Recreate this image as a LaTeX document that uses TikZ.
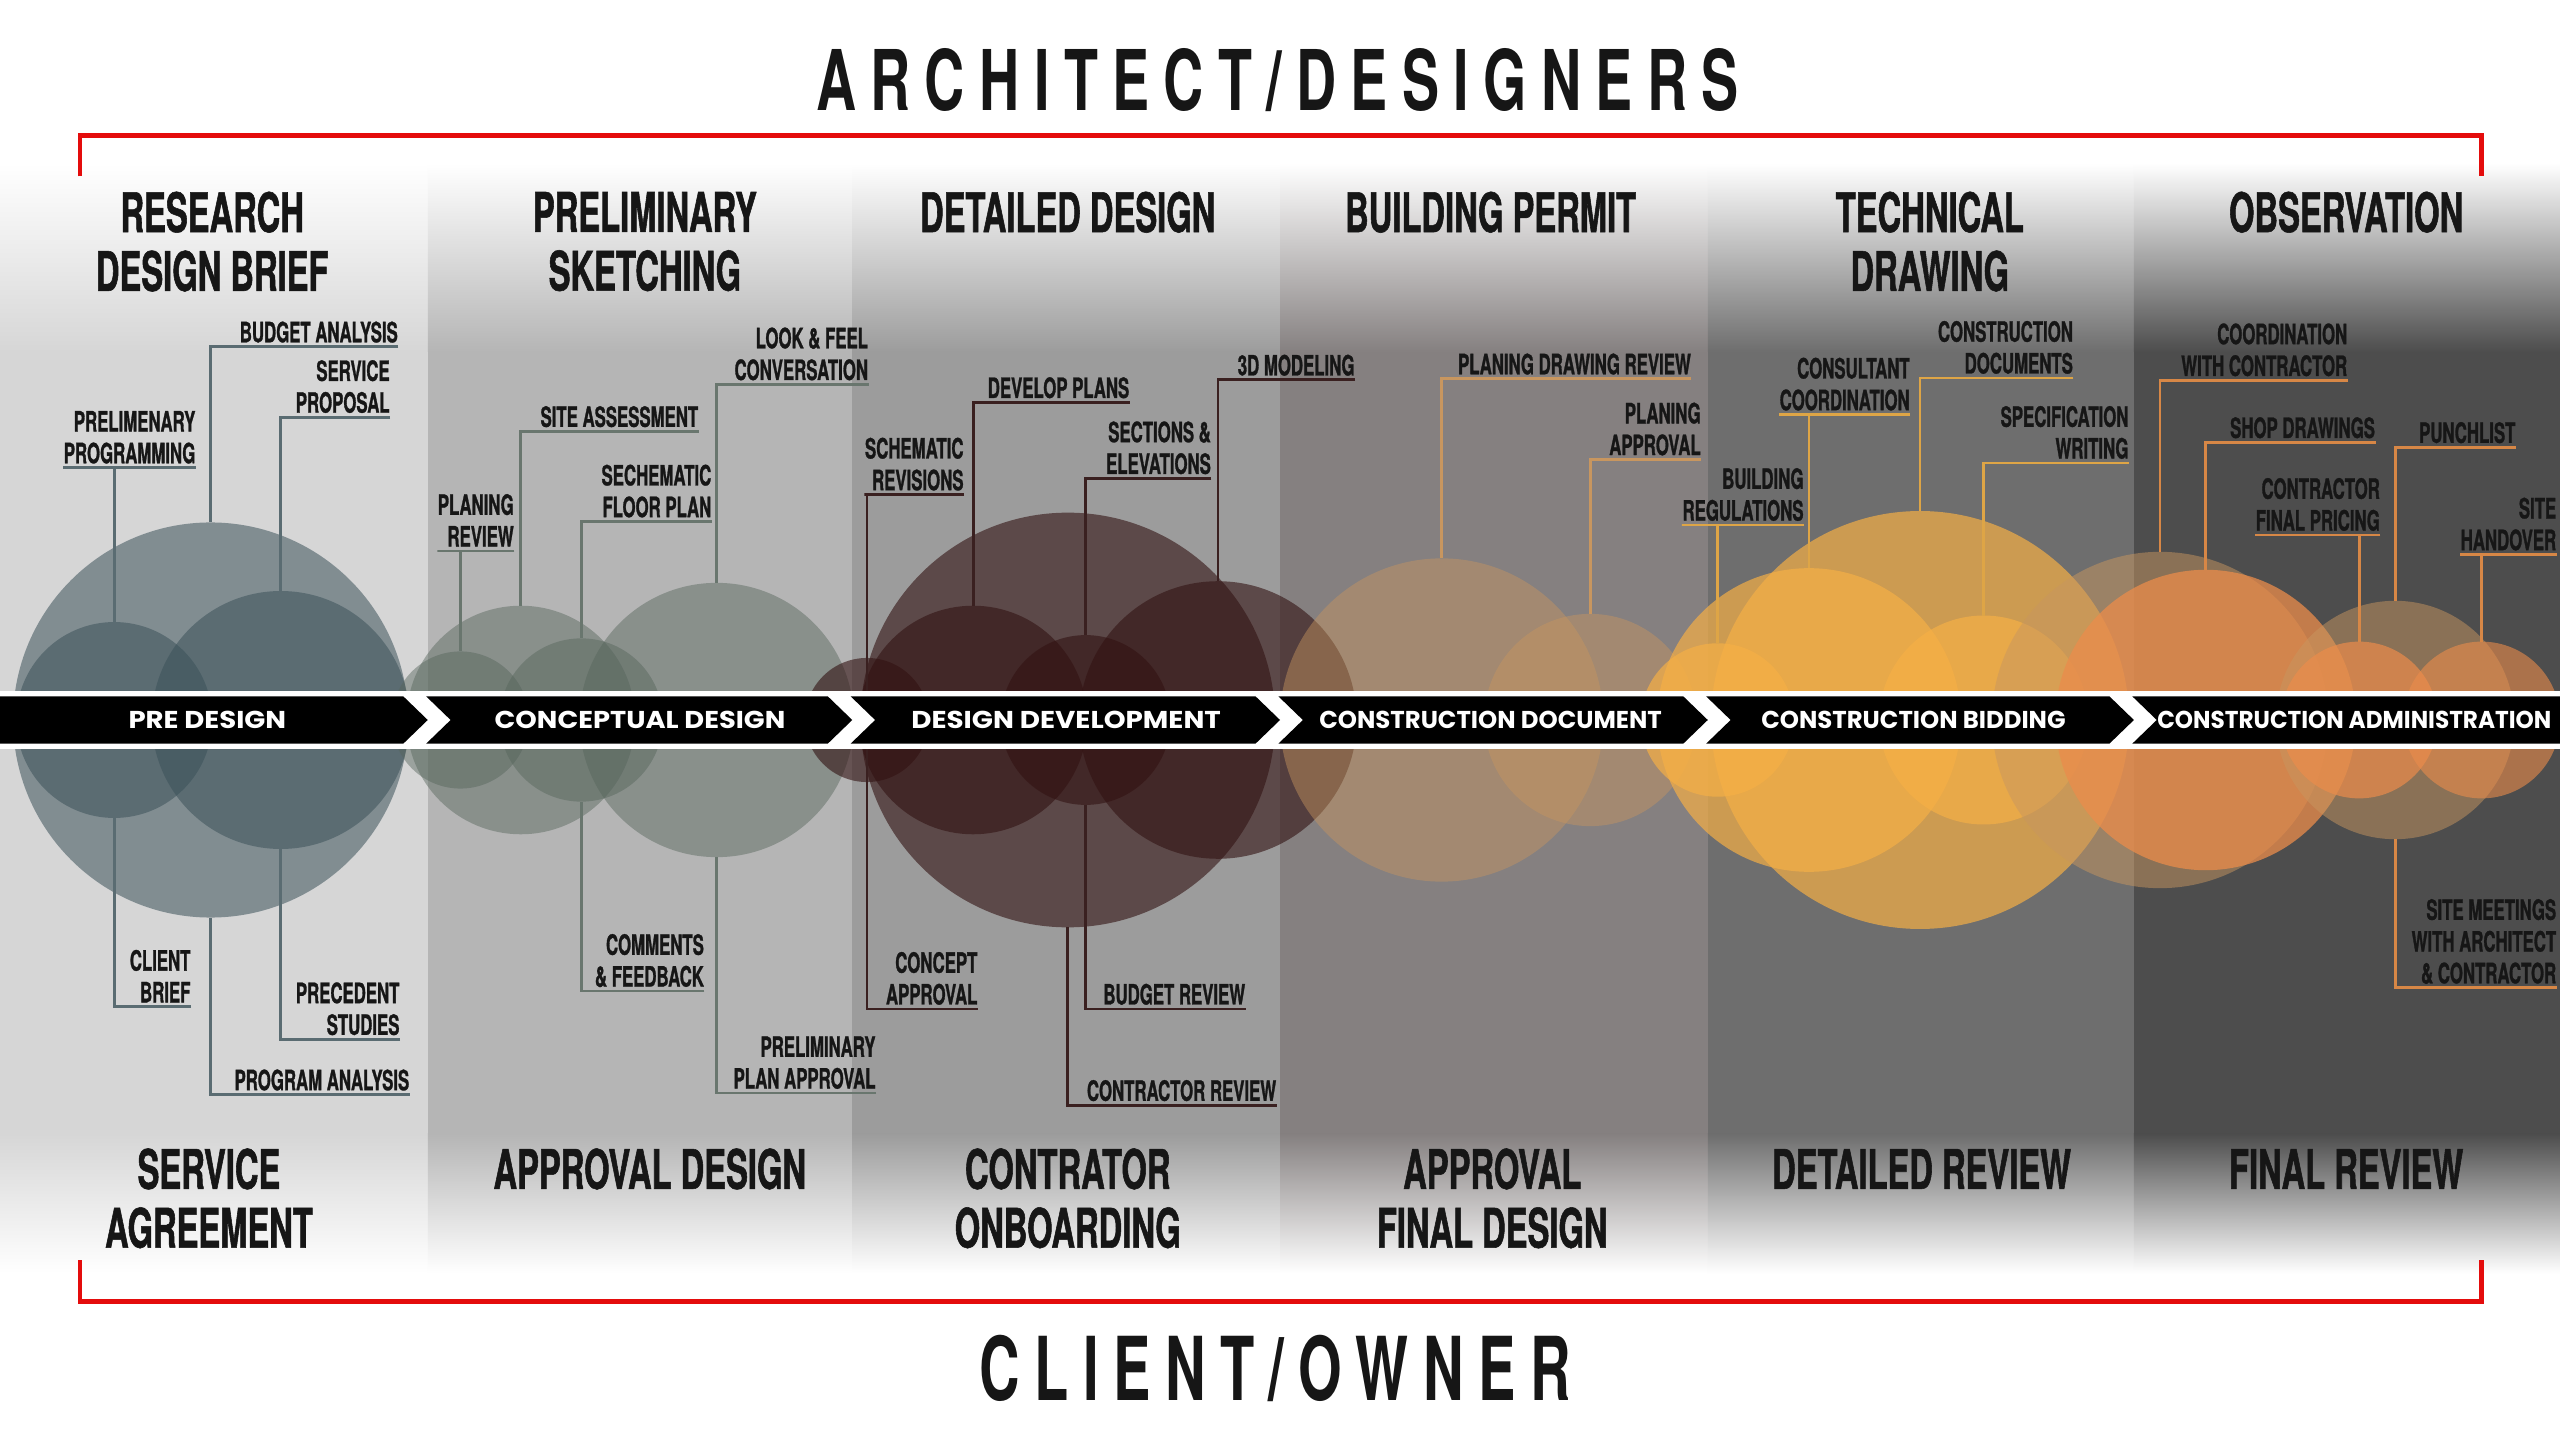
\documentclass[tikz,border=0pt]{standalone}
\usepackage{fontspec}
\usepackage{graphicx}
\setmainfont{TeX Gyre Heros}
\newfontfamily\condfont[FakeStretch=0.6,FakeBold=1]{TeX Gyre Heros}
\newfontfamily\titlefont[FakeStretch=0.58,LetterSpace=15]{TeX Gyre Heros}
\newfontfamily\barfont[FakeStretch=1.0]{Poppins}

\definecolor{colA}{RGB}{214,214,214}
\definecolor{colB}{RGB}{181,181,181}
\definecolor{colC}{RGB}{156,156,156}
\definecolor{colD}{RGB}{133,128,128}
\definecolor{colE}{RGB}{110,110,110}
\definecolor{colF}{RGB}{77,77,77}
\definecolor{bubA}{RGB}{60,82,90}
\definecolor{bubB}{RGB}{85,100,90}
\definecolor{bubC}{RGB}{50,18,18}
\definecolor{bubD}{RGB}{200,150,95}
\definecolor{bubE}{RGB}{245,175,70}
\definecolor{bubF}{RGB}{235,140,75}
\definecolor{lnA}{RGB}{90,108,114}
\definecolor{lnB}{RGB}{105,118,110}
\definecolor{lnC}{RGB}{58,32,32}
\definecolor{lnD}{RGB}{200,150,95}
\definecolor{lnE}{RGB}{222,165,70}
\definecolor{lnF}{RGB}{215,135,70}
\definecolor{brred}{RGB}{228,12,12}
\definecolor{ink}{RGB}{22,22,22}

\tikzset{
  phase/.style={font=\condfont\bfseries\fontsize{19}{20.5}\selectfont, align=center, text=ink, inner sep=0pt},
  lbl/.style={font=\condfont\bfseries\fontsize{9.75}{11.06}\selectfont, align=right, anchor=south east,
    inner xsep=0pt, inner ysep=0.48mm, text depth=0pt, text=ink},
  bub/.style={circle, inner sep=0pt, outer sep=0pt, minimum size=#1*0.4mm},
  stage/.style={font=\barfont\bfseries\fontsize{8.5}{9}\selectfont, text=white, inner sep=0pt},
  cn/.style={draw=#1, line width=0.35mm},
  bracket/.style={draw=brred, line width=0.6mm},
}

\begin{document}
\begin{tikzpicture}[x=0.2mm, y=-0.2mm]
\useasboundingbox (0,0) rectangle (1568,882);
\fill[white] (0,0) rectangle (1568,882);

% columns
\fill[colA] (0,215) rectangle (262,695);
\shade[top color=white, bottom color=colA] (0,100) rectangle (262,215.5);
\shade[top color=colA, bottom color=white] (0,694.5) rectangle (262,780);
\fill[colB] (262,215) rectangle (522,695);
\shade[top color=white, bottom color=colB] (262,100) rectangle (522,215.5);
\shade[top color=colB, bottom color=white] (262,694.5) rectangle (522,780);
\fill[colC] (522,215) rectangle (784,695);
\shade[top color=white, bottom color=colC] (522,100) rectangle (784,215.5);
\shade[top color=colC, bottom color=white] (522,694.5) rectangle (784,780);
\fill[colD] (784,215) rectangle (1046,695);
\shade[top color=white, bottom color=colD] (784,100) rectangle (1046,215.5);
\shade[top color=colD, bottom color=white] (784,694.5) rectangle (1046,780);
\fill[colE] (1046,215) rectangle (1307,695);
\shade[top color=white, bottom color=colE] (1046,100) rectangle (1307,215.5);
\shade[top color=colE, bottom color=white] (1046,694.5) rectangle (1307,780);
\fill[colF] (1307,215) rectangle (1568,695);
\shade[top color=white, bottom color=colF] (1307,100) rectangle (1568,215.5);
\shade[top color=colF, bottom color=white] (1307,694.5) rectangle (1568,780);

% titles and brackets
\node[text=ink, inner sep=0pt] (archtitle) at (782.5,49) {\resizebox{113mm}{7.6mm}{\titlefont\bfseries ARCHITECT/DESIGNERS}};
\node[text=ink, inner sep=0pt] (ownertitle) at (781,838) {\resizebox{72.4mm}{8mm}{\titlefont\bfseries CLIENT/OWNER}};
\path[bracket] (49,108) -- (49,83) -- (1520,83) -- (1520,108);
\path[bracket] (49,772) -- (49,797) -- (1520,797) -- (1520,772);

% phase headers
\node[phase] (research) at (130,148) {RESEARCH\\DESIGN BRIEF};
\node[phase] (sketching) at (395,148) {PRELIMINARY\\SKETCHING};
\node[phase] (detailed) at (654,130) {DETAILED DESIGN};
\node[phase] (permit) at (913,130) {BUILDING PERMIT};
\node[phase] (technical) at (1182,148) {TECHNICAL\\DRAWING};
\node[phase] (observe) at (1437,130) {OBSERVATION};
\node[phase] (service) at (128,734) {SERVICE\\AGREEMENT};
\node[phase] (apprdesign) at (398,716) {APPROVAL DESIGN};
\node[phase] (onboard) at (654,734) {CONTRATOR\\ONBOARDING};
\node[phase] (finaldesign) at (914,734) {APPROVAL\\FINAL DESIGN};
\node[phase] (detreview) at (1177,716) {DETAILED REVIEW};
\node[phase] (finalreview) at (1437,716) {FINAL REVIEW};

% task labels
\node[lbl] (budget) at (244,212.4) {BUDGET ANALYSIS};
\node[lbl] (proposal) at (239,255.5) {SERVICE\\PROPOSAL};
\node[lbl] (programming) at (120,286.5) {PRELIMENARY\\PROGRAMMING};
\node[lbl] (clientbrief) at (117,616.7) {CLIENT\\BRIEF};
\node[lbl] (precedent) at (245,636.6) {PRECEDENT\\STUDIES};
\node[lbl] (progan) at (251,670.5) {PROGRAM ANALYSIS};
\node[lbl] (planrev) at (315,337.5) {PLANING\\REVIEW};
\node[lbl] (siteass) at (428,264.2) {SITE ASSESSMENT};
\node[lbl] (floorplan) at (436,319.5) {SECHEMATIC\\FLOOR PLAN};
\node[lbl] (lookfeel) at (532,235.5) {LOOK \& FEEL\\CONVERSATION};
\node[lbl] (comments) at (431.5,607) {COMMENTS\\\& FEEDBACK};
\node[lbl] (prelplan) at (536.6,669.5) {PRELIMINARY\\PLAN APPROVAL};
\node[lbl] (schrev) at (590.5,303) {SCHEMATIC\\REVISIONS};
\node[lbl] (devplans) at (692,246.5) {DEVELOP PLANS};
\node[lbl] (sections) at (742,293) {SECTIONS \&\\ELEVATIONS};
\node[lbl] (modeling) at (830,232.7) {3D MODELING};
\node[lbl] (concept) at (599,618) {CONCEPT\\APPROVAL};
\node[lbl] (budrev) at (763,618) {BUDGET REVIEW};
\node[lbl] (contrev) at (782,677) {CONTRACTOR REVIEW};
\node[lbl] (drawrev) at (1036,232) {PLANING DRAWING REVIEW};
\node[lbl] (planappr) at (1042,281.5) {PLANING\\APPROVAL};
\node[lbl] (buildreg) at (1105,321.6) {BUILDING\\REGULATIONS};
\node[lbl] (consult) at (1170,254) {CONSULTANT\\COORDINATION};
\node[lbl] (constdoc) at (1270,231.5) {CONSTRUCTION\\DOCUMENTS};
\node[lbl] (specwrit) at (1304,283.6) {SPECIFICATION\\WRITING};
\node[lbl] (coordcon) at (1438,233) {COORDINATION\\WITH CONTRACTOR};
\node[lbl] (shopdraw) at (1455,271) {SHOP DRAWINGS};
\node[lbl] (punch) at (1541,274) {PUNCHLIST};
\node[lbl] (pricing) at (1458,327.7) {CONTRACTOR\\FINAL PRICING};
\node[lbl] (handover) at (1566,339.7) {SITE\\HANDOVER};
\node[lbl] (sitemeet) at (1566,605) {SITE MEETINGS\\WITH ARCHITECT\\\& CONTRACTOR};

% bubbles
\node[bub=121, fill=bubA, fill opacity=0.55] (big1) at (129,441) {};
\node[bub=60, fill=bubA, fill opacity=0.55] (small1) at (70,441) {};
\node[bub=79, fill=bubA, fill opacity=0.55] (med1) at (172,441) {};
\node[bub=42, fill=bubB, fill opacity=0.45] (c2a) at (282,441) {};
\node[bub=70, fill=bubB, fill opacity=0.45] (c2b) at (319,441) {};
\node[bub=50, fill=bubB, fill opacity=0.45] (c2c) at (356,441) {};
\node[bub=84, fill=bubB, fill opacity=0.45] (c2d) at (439,441) {};
\node[bub=38, fill=bubC, fill opacity=0.6] (c3a) at (531,441) {};
\node[bub=127, fill=bubC, fill opacity=0.6] (c3d) at (654,441) {};
\node[bub=70, fill=bubC, fill opacity=0.6] (c3b) at (596,441) {};
\node[bub=52, fill=bubC, fill opacity=0.6] (c3c) at (665,441) {};
\node[bub=85, fill=bubC, fill opacity=0.6] (c3e) at (746,441) {};
\node[bub=99, fill=bubD, fill opacity=0.45] (c4a) at (883,441) {};
\node[bub=65, fill=bubD, fill opacity=0.45] (c4b) at (974,441) {};
\node[bub=128, fill=bubE, fill opacity=0.7] (c5c) at (1176,441) {};
\node[bub=93, fill=bubE, fill opacity=0.7] (c5b) at (1108,441) {};
\node[bub=64, fill=bubE, fill opacity=0.7] (c5d) at (1215,441) {};
\node[bub=47, fill=bubE, fill opacity=0.7] (c5a) at (1052,441) {};
\node[bub=103, fill=bubD, fill opacity=0.5] (c6a) at (1323,441) {};
\node[bub=92, fill=bubF, fill opacity=0.75] (c6b) at (1351,441) {};
\node[bub=73, fill=bubD, fill opacity=0.5] (c6c) at (1467,441) {};
\node[bub=48, fill=bubF, fill opacity=0.7] (c6d) at (1445,441) {};
\node[bub=48, fill=bubF, fill opacity=0.6] (c6e) at (1520,441) {};

% leader lines
\path[cn=lnA] (budget.south east) -- (budget.south west) -- (big1.north |- budget.south) -- (big1.north);
\path[cn=lnA] (proposal.south east) -- (proposal.south west) -- (med1.north |- proposal.south) -- (med1.north);
\path[cn=lnA] (programming.south east) -- (programming.south west) -- (small1.north |- programming.south) -- (small1.north);
\path[cn=lnA] (clientbrief.south east) -- (clientbrief.south west) -- (small1.south |- clientbrief.south) -- (small1.south);
\path[cn=lnA] (precedent.south east) -- (precedent.south west) -- (med1.south |- precedent.south) -- (med1.south);
\path[cn=lnA] (progan.south east) -- (progan.south west) -- (big1.south |- progan.south) -- (big1.south);
\path[cn=lnB] (planrev.south east) -- (planrev.south west) -- (c2a.north |- planrev.south) -- (c2a.north);
\path[cn=lnB] (siteass.south east) -- (siteass.south west) -- (c2b.north |- siteass.south) -- (c2b.north);
\path[cn=lnB] (floorplan.south east) -- (floorplan.south west) -- (c2c.north |- floorplan.south) -- (c2c.north);
\path[cn=lnB] (lookfeel.south east) -- (lookfeel.south west) -- (c2d.north |- lookfeel.south) -- (c2d.north);
\path[cn=lnB] (comments.south east) -- (comments.south west) -- (c2c.south |- comments.south) -- (c2c.south);
\path[cn=lnB] (prelplan.south east) -- (prelplan.south west) -- (c2d.south |- prelplan.south) -- (c2d.south);
\path[cn=lnC] (schrev.south east) -- (schrev.south west) -- (c3a |- schrev.south) -- (c3a |- concept.south) -- (concept.south east);
\path[cn=lnC] (devplans.south east) -- (devplans.south west) -- (c3b.north |- devplans.south) -- (c3b.north);
\path[cn=lnC] (sections.south east) -- (sections.south west) -- (c3c.north |- sections.south) -- (c3c.north);
\path[cn=lnC] (modeling.south east) -- (modeling.south west) -- (c3e.north |- modeling.south) -- (c3e.north);
\path[cn=lnC] (budrev.south east) -- (budrev.south west) -- (c3c.south |- budrev.south) -- (c3c.south);
\path[cn=lnC] (contrev.south east) -- (contrev.south west) -- (c3d.south |- contrev.south) -- (c3d.south);
\path[cn=lnD] (drawrev.south east) -- (drawrev.south west) -- (c4a.north |- drawrev.south) -- (c4a.north);
\path[cn=lnD] (planappr.south east) -- (planappr.south west) -- (c4b.north |- planappr.south) -- (c4b.north);
\path[cn=lnE] (buildreg.south east) -- (buildreg.south west) -- (c5a.north |- buildreg.south) -- (c5a.north);
\path[cn=lnE] (consult.south east) -- (consult.south west) -- (c5b.north |- consult.south) -- (c5b.north);
\path[cn=lnE] (constdoc.south east) -- (constdoc.south west) -- (c5c.north |- constdoc.south) -- (c5c.north);
\path[cn=lnE] (specwrit.south east) -- (specwrit.south west) -- (c5d.north |- specwrit.south) -- (c5d.north);
\path[cn=lnF] (coordcon.south east) -- (coordcon.south west) -- (c6a.north |- coordcon.south) -- (c6a.north);
\path[cn=lnF] (shopdraw.south east) -- (shopdraw.south west) -- (c6b.north |- shopdraw.south) -- (c6b.north);
\path[cn=lnF] (punch.south east) -- (punch.south west) -- (c6c.north |- punch.south) -- (c6c.north);
\path[cn=lnF] (pricing.south east) -- (pricing.south west) -- (c6d.north |- pricing.south) -- (c6d.north);
\path[cn=lnF] (handover.south east) -- (handover.south west) -- (c6e.north |- handover.south) -- (c6e.north);
\path[cn=lnF] (sitemeet.south east) -- (sitemeet.south west) -- (c6c.south |- sitemeet.south) -- (c6c.south);

% process bar
\fill[white] (0,423) rectangle (1568,459);
\fill[black] (0,426.5) -- (247,426.5) -- (262,441) -- (247,455.5) -- (0,455.5) -- cycle;
\fill[black] (261,426.5) -- (507,426.5) -- (522,441) -- (507,455.5) -- (261,455.5) -- (276,441) -- cycle;
\fill[black] (521,426.5) -- (769,426.5) -- (784,441) -- (769,455.5) -- (521,455.5) -- (536,441) -- cycle;
\fill[black] (783,426.5) -- (1031,426.5) -- (1046,441) -- (1031,455.5) -- (783,455.5) -- (798,441) -- cycle;
\fill[black] (1045,426.5) -- (1292,426.5) -- (1307,441) -- (1292,455.5) -- (1045,455.5) -- (1060,441) -- cycle;
\fill[black] (1306,426.5) -- (1568,426.5) -- (1568,455.5) -- (1306,455.5) -- (1321,441) -- cycle;
\node[stage] (predesign) at (127,441) {\scalebox{1.13}[1]{PRE DESIGN}};
\node[stage] (conceptual) at (392,441) {\scalebox{1.12}[1]{CONCEPTUAL DESIGN}};
\node[stage] (development) at (653,441) {\scalebox{1.14}[1]{DESIGN DEVELOPMENT}};
\node[stage] (document) at (913,441) {CONSTRUCTION DOCUMENT};
\node[stage] (bidding) at (1172,441) {CONSTRUCTION BIDDING};
\node[stage] (administration) at (1442,441) {\scalebox{0.95}[1]{CONSTRUCTION ADMINISTRATION}};
\end{tikzpicture}
\end{document}
